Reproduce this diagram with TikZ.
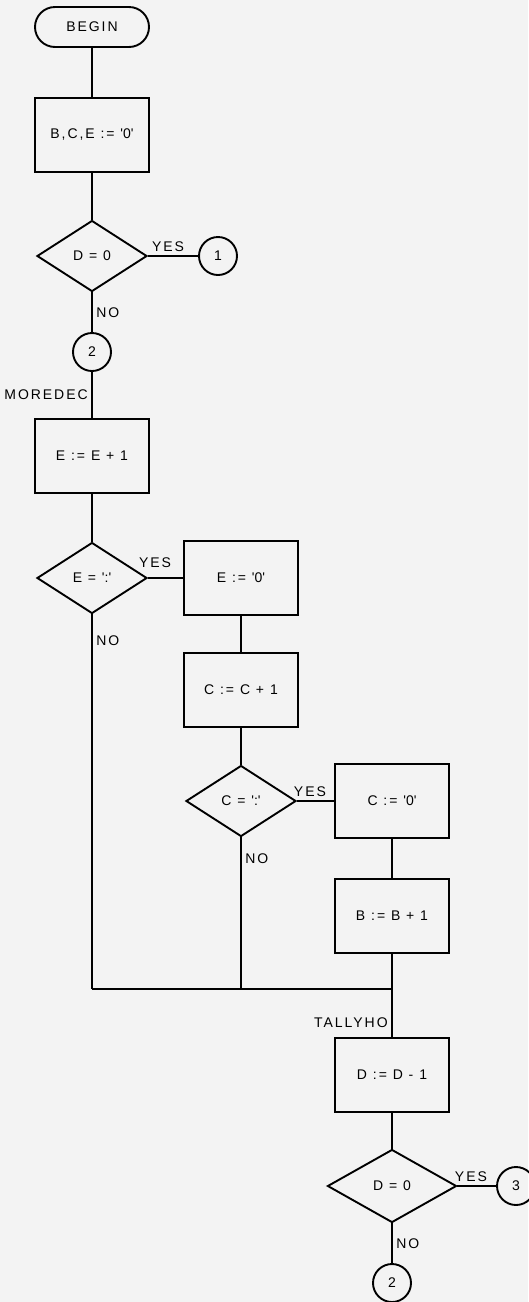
\documentclass[tikz,border=0pt]{standalone}
\usepackage{fontspec}
\setmainfont{Liberation Sans}[LetterSpace=14]
\usetikzlibrary{shapes.geometric}
\newcommand{\sq}{\textquotesingle}
\definecolor{paper}{RGB}{243,243,243}

\tikzset{
  every node/.style={font=\fontsize{14}{16}\selectfont},
  terminal/.style={draw, rounded corners=20pt, minimum width=114pt, minimum height=40pt},
  procbox/.style={draw, minimum width=114pt, minimum height=74pt},
  decision/.style={draw, diamond, inner sep=0pt, minimum width=110pt, minimum height=71pt},
  connector/.style={draw, circle, inner sep=0pt, minimum size=38pt}
}

\begin{document}
\begin{tikzpicture}[x=1pt, y=-1pt, line width=1.9pt]
    \fill[paper] (0,0) rectangle (528,1302);
    \useasboundingbox (0,0) rectangle (528,1302);
    % Start and first test
    \node[terminal] (begin) at (92,27) {BEGIN};
    \node[procbox] (init) at (92,135) {B,C,E := \sq0\sq};
    \node[decision] (dzero) at (92,256) {D = 0};
    \node[connector] (con1) at (218,256) {1};
    \node[connector] (con2) at (92,352) {2};
    \draw (begin) -- (init);
    \draw (init) -- (dzero);
    \draw (dzero) -- node[above, pos=0.4] {YES} (con1);
    \draw (dzero) -- node[right] {NO} (con2);
    % Digit E
    \node[procbox] (incE) at (92,456) {E := E + 1};
    \node[decision] (testE) at (92,578) {E = \sq:\sq};
    \node[procbox] (resetE) at (241,578) {E := \sq0\sq};
    \draw (con2) -- node[left] {MOREDEC} (incE);
    \draw (incE) -- (testE);
    \draw (testE) -- node[above=6pt, pos=0.2] {YES} (resetE);
    % Digit C
    \node[procbox] (incC) at (241,690) {C := C + 1};
    \node[decision] (testC) at (241,801) {C = \sq:\sq};
    \node[procbox] (resetC) at (392,801) {C := \sq0\sq};
    \draw (resetE) -- (incC);
    \draw (incC) -- (testC);
    \draw (testC) -- node[above, pos=0.35] {YES} (resetC);
    % Digit B
    \node[procbox] (incB) at (392,916) {B := B + 1};
    \draw (resetC) -- (incB);
    % Merge of the three paths
    \coordinate (joinE) at (92,989);
    \coordinate (joinC) at (241,989);
    \coordinate (joinB) at (392,989);
    \draw (testE) -- node[right, pos=0.07] {NO} (joinE);
    \draw (testC) -- node[right, pos=0.14] {NO} (joinC);
    \draw (incB) -- (joinB);
    \draw (joinE) -- (joinC) -- (joinB);
    % Count down D
    \node[procbox] (decD) at (392,1075) {D := D - 1};
    \node[decision, minimum width=129pt, minimum height=73pt] (dend) at (392,1186) {D = 0};
    \node[connector] (con3) at (516,1186) {3};
    \node[connector] (con2b) at (392,1283) {2};
    \draw (joinB) -- node[left, pos=0.7] {TALLYHO} (decD);
    \draw (decD) -- (dend);
    \draw (dend) -- node[above, pos=0.35] {YES} (con3);
    \draw (dend) -- node[right] {NO} (con2b);
\end{tikzpicture}
\end{document}
